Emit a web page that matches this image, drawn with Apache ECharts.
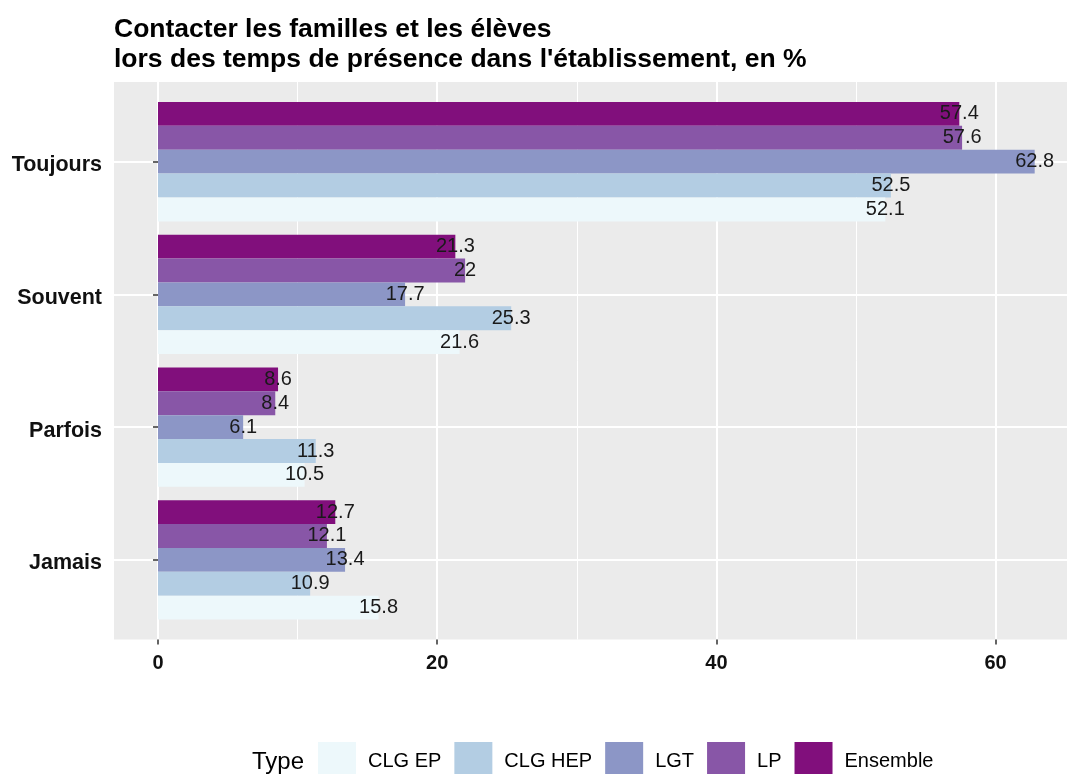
<!DOCTYPE html>
<html>
<head>
<meta charset="utf-8">
<script src="https://cdn.jsdelivr.net/npm/echarts@6/dist/echarts.min.js"></script>
<style>
  html, body { margin: 0; padding: 0; background: #ffffff; }
  #chart { width: 1067px; height: 774px; }
</style>
</head>
<body>
<div id="chart"></div>
<script>
// categories from bottom to top (category axis runs upward)
const categories = ['Jamais', 'Parfois', 'Souvent', 'Toujours']
const clgEp = [15.8, 10.5, 21.6, 52.1]
const clgHep = [10.9, 11.3, 25.3, 52.5]
const lgt = [13.4, 6.1, 17.7, 62.8]
const lp = [12.1, 8.4, 22, 57.6]
const ensemble = [12.7, 8.6, 21.3, 57.4]
const xTicks = [0, 20, 40, 60]

const seriesDefs = [
  { name: 'CLG EP', data: clgEp, color: '#EDF8FB' },
  { name: 'CLG HEP', data: clgHep, color: '#B3CDE3' },
  { name: 'LGT', data: lgt, color: '#8C96C6' },
  { name: 'LP', data: lp, color: '#8856A7' },
  { name: 'Ensemble', data: ensemble, color: '#810F7C' },
]

const FONT = "'Liberation Sans', Arial, sans-serif"
const chart = echarts.init(document.getElementById('chart'))

// panel geometry (ggplot-like): 0 at x=158, 13.96 px per unit
const panelLeft = 114
const zeroX = 158
const pxPerUnit = 13.96
const panelTop = 82
const panelH = 557.5
const band = panelH / 4.2

const option = {
  backgroundColor: '#ffffff',
  animation: false,
  title: [
    {
      text: 'Contacter les familles et les élèves\nlors des temps de présence dans l\'établissement, en %',
      left: 114,
      top: 15,
      padding: 0,
      textStyle: { fontFamily: FONT, fontSize: 26.5, fontWeight: 'bold', color: '#000', lineHeight: 29.5 },
    },
    {
      text: 'Type',
      left: 252,
      top: 750,
      padding: 0,
      textStyle: { fontFamily: FONT, fontSize: 24, fontWeight: 'normal', color: '#000' },
    },
  ],
  legend: {
    left: 318,
    top: 742,
    padding: 0,
    itemWidth: 38,
    itemHeight: 38,
    itemGap: 13,
    icon: 'rect',
    data: seriesDefs.map(s => s.name),
    textStyle: { fontFamily: FONT, fontSize: 20, color: '#000', padding: [0, 0, 0, 7] },
  },
  grid: [
    // grey panel background
    { left: panelLeft, right: 0, top: panelTop, height: panelH, show: true, backgroundColor: '#EBEBEB', borderWidth: 0 },
    // vertical grid lines + x labels
    { left: zeroX, width: 60 * pxPerUnit, top: panelTop, height: panelH },
    // bars
    { left: panelLeft, right: 0, top: panelTop + 0.1 * band, height: 4 * band },
  ],
  xAxis: [
    { gridIndex: 0, type: 'value', show: false },
    {
      gridIndex: 1,
      type: 'value',
      min: xTicks[0],
      max: xTicks[xTicks.length - 1],
      interval: 20,
      axisLine: { show: false },
      axisTick: { show: true, length: 5, lineStyle: { color: '#333', width: 1.5 } },
      axisLabel: { fontFamily: FONT, fontSize: 20, fontWeight: 'bold', color: '#111', margin: 14 },
      splitLine: { show: true, lineStyle: { color: '#ffffff', width: 2 } },
      minorTick: { show: false, splitNumber: 2 },
      minorSplitLine: { show: true, lineStyle: { color: '#ffffff', width: 1 } },
    },
    {
      gridIndex: 2,
      type: 'value',
      min: (panelLeft - zeroX) / pxPerUnit,
      max: (1067 - zeroX) / pxPerUnit,
      show: false,
      splitLine: { show: false },
    },
  ],
  yAxis: [
    { gridIndex: 0, type: 'value', show: false },
    { gridIndex: 1, type: 'value', show: false, splitLine: { show: false } },
    {
      gridIndex: 2,
      type: 'category',
      data: categories,
      axisLine: { show: false },
      axisTick: { show: true, alignWithLabel: true, length: 5, lineStyle: { color: '#333', width: 1.5 } },
      axisLabel: {
        margin: 12,
        formatter: '{c|{value}}',
        rich: {
          c: { fontFamily: FONT, fontSize: 21.5, fontWeight: 'bold', color: '#111', padding: [7, 0, 0, 0] },
        },
      },
      splitLine: { show: true, alignWithLabel: true, lineStyle: { color: '#ffffff', width: 2 } },
    },
  ],
  // first series is drawn at the top of each group, so go from Ensemble down
  series: seriesDefs.slice().reverse().map(s => ({
    name: s.name,
    type: 'bar',
    xAxisIndex: 2,
    yAxisIndex: 2,
    data: s.data,
    barGap: '0%',
    barCategoryGap: '10%',
    itemStyle: { color: s.color },
    label: {
      show: true,
      position: ['100%', '50%'],
      align: 'center',
      verticalAlign: 'middle',
      fontFamily: FONT,
      fontSize: 20,
      color: '#1a1a1a',
    },
  })),
}

chart.setOption(option)
window.addEventListener('resize', () => chart.resize())
</script>
</body>
</html>
